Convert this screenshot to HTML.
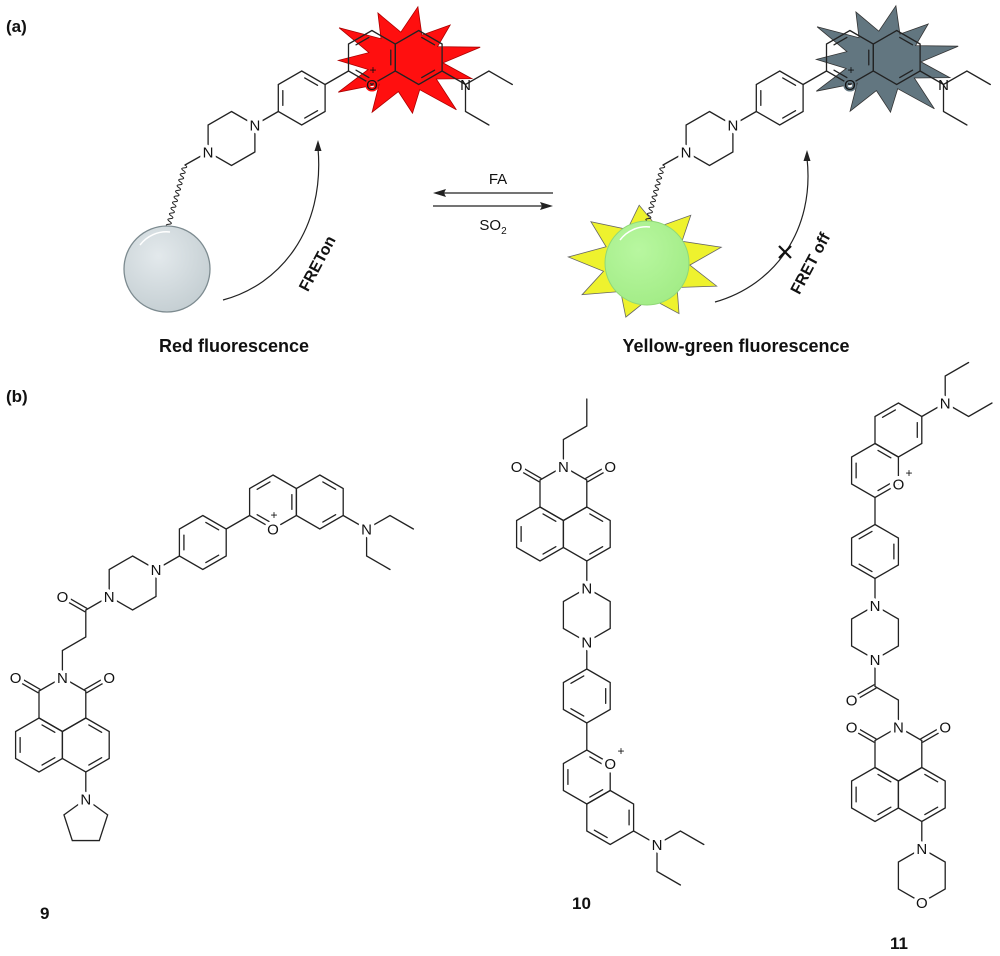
<!DOCTYPE html>
<html><head><meta charset="utf-8"><style>
html,body{margin:0;padding:0;background:#fff;}
svg{display:block;}
text{font-family:"Liberation Sans",Arial,sans-serif;fill:#111;}
.at{font-size:15px;text-anchor:middle;paint-order:stroke;stroke:#fff;stroke-width:7px;stroke-linejoin:round;}
.ar{stroke:#ff0f0f;stroke-width:3px;}
.ag{stroke:#627680;stroke-width:3px;}
.pl{font-size:12px;text-anchor:middle;}
.cap{font-size:18px;font-weight:bold;text-anchor:middle;}
.lab{font-size:17px;font-weight:bold;}
</style></head><body>
<svg width="1000" height="956" viewBox="0 0 1000 956" xmlns="http://www.w3.org/2000/svg" xmlns:xlink="http://www.w3.org/1999/xlink">
<defs>
<radialGradient id="gg" cx="0.4" cy="0.35" r="0.7"><stop offset="0" stop-color="#e3e9ec"/><stop offset="1" stop-color="#c4ced2"/></radialGradient>
<radialGradient id="gr" cx="0.4" cy="0.35" r="0.7"><stop offset="0" stop-color="#b8f7a0"/><stop offset="1" stop-color="#a2ec86"/></radialGradient>
<polygon id="hx" points="0,-27 23.4,-13.5 23.4,13.5 0,27 -23.4,13.5 -23.4,-13.5"/>
<line id="e0" x1="3.02" y1="-20.06" x2="15.86" y2="-12.64"/>
<line id="e1" x1="18.88" y1="-7.41" x2="18.88" y2="7.41"/>
<line id="e2" x1="15.86" y1="12.64" x2="3.02" y2="20.06"/>
<line id="e3" x1="-3.02" y1="20.06" x2="-15.86" y2="12.64"/>
<line id="e4" x1="-18.88" y1="7.41" x2="-18.88" y2="-7.41"/>
<line id="e5" x1="-15.86" y1="-12.64" x2="-3.02" y2="-20.06"/>
<g id="r024"><use xlink:href="#hx"/><use xlink:href="#e0"/><use xlink:href="#e2"/><use xlink:href="#e4"/></g>
<g id="r135"><use xlink:href="#hx"/><use xlink:href="#e1"/><use xlink:href="#e3"/><use xlink:href="#e5"/></g>
<g id="r02"><use xlink:href="#hx"/><use xlink:href="#e0"/><use xlink:href="#e2"/></g>
<g id="r13"><use xlink:href="#hx"/><use xlink:href="#e1"/><use xlink:href="#e3"/></g>
<g id="r15"><use xlink:href="#hx"/><use xlink:href="#e1"/><use xlink:href="#e5"/></g>
<g id="molA">
 <use xlink:href="#r024" transform="translate(301.7,98)"/>
 <use xlink:href="#hx" transform="translate(231.5,138.5)"/>
 <use xlink:href="#r135" transform="translate(371.9,57.5)"/>
 <use xlink:href="#r02" transform="translate(418.7,57.5)"/>
 <path d="M278.3,111.5 L254.9,125 M208.1,152 L185,165 M325.1,84.5 L348.5,71 M442.1,71 L465.5,84.5 L488.9,71 L512.3,84.5 M465.5,84.5 L465.5,111.5 L488.9,125"/>
 <path stroke-width="1" d="M185,165 q3.85,2.57 -0.77,2.82 t-0.77,2.82 t-0.77,2.82 t-0.77,2.82 t-0.77,2.82 t-0.77,2.82 t-0.77,2.82 t-0.77,2.82 t-0.77,2.82 t-0.77,2.82 t-0.77,2.82 t-0.77,2.82 t-0.77,2.82 t-0.77,2.82 t-0.77,2.82 t-0.77,2.82 t-0.77,2.82 t-0.77,2.82 t-0.77,2.82 t-0.77,2.82 t-0.77,2.82 t-0.77,2.82"/>
</g>
</defs>

<!-- stars -->
<polygon points="417.9,6.8 421.9,35.1 450.2,25 437.6,46.6 480.2,47.2 443,62.9 471.8,78.6 436.3,79 456.4,109.8 419.7,89.7 412.5,113.2 398.4,91.6 372.1,112.2 379.2,84.1 338.3,92.2 368.2,69.5 338.4,60.4 368.9,52.6 339.1,27.8 381,38.7 377.9,13 400.8,32.2" fill="#ff0f0f" stroke="#a00" stroke-width="0.8"/>
<polygon transform="translate(478,-1)" points="417.9,6.8 421.9,35.1 450.2,25 437.6,46.6 480.2,47.2 443,62.9 471.8,78.6 436.3,79 456.4,109.8 419.7,89.7 412.5,113.2 398.4,91.6 372.1,112.2 379.2,84.1 338.3,92.2 368.2,69.5 338.4,60.4 368.9,52.6 339.1,27.8 381,38.7 377.9,13 400.8,32.2" fill="#627680" stroke="#333" stroke-width="0.8"/>
<polygon points="639.2,205.2 657.4,227.2 690.8,215.3 682,241.3 721.3,247.2 689.8,265.1 716.7,286.1 677.1,287.5 679,313.6 649.8,297.9 625.8,317.1 620.7,291.5 582.1,294.7 603.5,271.3 568.3,257 606.1,246.8 590.9,221.7 627.4,229.4" fill="#eef22e" stroke="#666" stroke-width="0.8"/>

<g stroke="#222" stroke-width="1.3" fill="none" stroke-linecap="round">
 <use xlink:href="#molA"/>
 <use xlink:href="#molA" transform="translate(478,0)"/>

 <!-- 9 -->
 <use xlink:href="#r135" transform="translate(273,502)"/>
 <use xlink:href="#r02" transform="translate(319.8,502)"/>
 <use xlink:href="#r024" transform="translate(202.8,542.5)"/>
 <use xlink:href="#hx" transform="translate(132.6,583)"/>
 <use xlink:href="#hx" transform="translate(62.4,704.5)"/>
 <use xlink:href="#r024" transform="translate(39,745)"/>
 <use xlink:href="#r02" transform="translate(85.8,745)"/>
 <path d="M343.2,515.5 L366.6,529 L390,515.5 L413.4,529 M366.6,529 L366.6,556 L390,569.5 M249.6,515.5 L226.2,529 M179.4,556 L156,569.5 M109.2,596.5 L85.8,610 L85.8,637 L62.4,650.5 L62.4,677.5 M85.8,772 L85.8,799"/>
 <path d="M86.8,608.3 L63.4,594.8 M84.8,611.7 L61.4,598.2 M40,689.3 L16.6,675.8 M38,692.7 L14.6,679.2 M86.8,692.7 L110.2,679.2 M84.8,689.3 L108.2,675.8"/>
 <polygon points="85.8,799 107.65,814.87 99.3,840.55 72.3,840.55 63.95,814.87"/>

 <!-- 10 -->
 <use xlink:href="#hx" transform="translate(563.4,493.5)"/>
 <use xlink:href="#r024" transform="translate(540,534)"/>
 <use xlink:href="#r02" transform="translate(586.8,534)"/>
 <use xlink:href="#hx" transform="translate(586.8,615)"/>
 <use xlink:href="#r135" transform="translate(586.8,696)"/>
 <use xlink:href="#r024" transform="translate(586.8,777)"/>
 <use xlink:href="#r13" transform="translate(610.2,817.5)"/>
 <path d="M586.8,399 L586.8,426 L563.4,439.5 L563.4,466.5 M586.8,561 L586.8,588 M586.8,642 L586.8,669 M586.8,723 L586.8,750 M633.6,831 L657,844.5 L680.4,831 L703.8,844.5 M657,844.5 L657,871.5 L680.4,885"/>
 <path d="M541,478.3 L517.6,464.8 M539,481.7 L515.6,468.2 M587.8,481.7 L611.2,468.2 M585.8,478.3 L609.2,464.8"/>

 <!-- 11 -->
 <use xlink:href="#r15" transform="translate(898.4,430)"/>
 <use xlink:href="#r024" transform="translate(875,470.5)"/>
 <use xlink:href="#r135" transform="translate(875,551.5)"/>
 <use xlink:href="#hx" transform="translate(875,632.5)"/>
 <use xlink:href="#hx" transform="translate(898.4,754)"/>
 <use xlink:href="#r024" transform="translate(875,794.5)"/>
 <use xlink:href="#r02" transform="translate(921.8,794.5)"/>
 <use xlink:href="#hx" transform="translate(921.8,875.5)"/>
 <path d="M921.8,416.5 L945.2,403 L945.2,376 L968.6,362.5 M945.2,403 L968.6,416.5 L992,403 M875,497.5 L875,524.5 M875,578.5 L875,605.5 M875,659.5 L875,686.5 L898.4,700 L898.4,727 M921.8,821.5 L921.8,848.5"/>
 <path d="M874,684.8 L850.6,698.3 M876,688.2 L852.6,701.7 M876,738.8 L852.6,725.3 M874,742.2 L850.6,728.7 M922.8,742.2 L946.2,728.7 M920.8,738.8 L944.2,725.3"/>
</g>

<!-- balls -->
<circle cx="167" cy="269" r="43" fill="url(#gg)" stroke="#7d8b90" stroke-width="1.3"/>
<path d="M140,245 A33,33 0 0 1 170,232" stroke="#fff" stroke-width="1.5" fill="none"/>
<circle cx="647" cy="263" r="42" fill="url(#gr)" stroke="#8fd876" stroke-width="1"/>
<path d="M620,240 A33,33 0 0 1 650,227" stroke="#fff" stroke-width="1.5" fill="none"/>

<!-- equilibrium arrows -->
<line x1="436" y1="193" x2="553" y2="193" stroke="#222" stroke-width="1.3"/>
<polygon points="433,193 446,189 444,193 446,197" fill="#222"/>
<line x1="433" y1="206" x2="550" y2="206" stroke="#222" stroke-width="1.3"/>
<polygon points="553,206 540,202 542,206 540,210" fill="#222"/>
<text x="498" y="184" style="font-size:15px;text-anchor:middle">FA</text>
<text x="493" y="230" style="font-size:15px;text-anchor:middle">SO<tspan style="font-size:10px" dy="4">2</tspan></text>

<!-- FRET arrows -->
<path d="M223,300 C280,285 325,230 318,148" stroke="#222" stroke-width="1.2" fill="none"/>
<polygon points="318,140 314.5,151 321.5,151" fill="#222"/>
<path d="M715,302 C775,285 815,230 807,158" stroke="#222" stroke-width="1.2" fill="none"/>
<polygon points="807,150 803.5,161 810.5,161" fill="#222"/>
<line x1="779" y1="246" x2="791" y2="258" stroke="#111" stroke-width="2.2"/>
<line x1="791" y1="246" x2="779" y2="258" stroke="#111" stroke-width="2.2"/>
<text transform="translate(322,266) rotate(-62)" style="font-size:16px;font-weight:bold;text-anchor:middle">FRETon</text>
<text transform="translate(815,266) rotate(-62)" style="font-size:16px;font-weight:bold;text-anchor:middle">FRET off</text>

<text class="cap" x="234" y="352">Red fluorescence</text>
<text class="cap" x="736" y="352">Yellow-green fluorescence</text>
<text class="lab" x="6" y="32">(a)</text>
<text class="lab" x="6" y="402">(b)</text>
<text class="lab" x="40" y="919">9</text>
<text class="lab" x="572" y="909">10</text>
<text class="lab" x="890" y="949">11</text>

<!-- atom labels (a) -->
<text class="at" x="254.9" y="130.5">N</text>
<text class="at" x="208.1" y="157.5">N</text>
<text class="at ar" x="371.9" y="90">O</text><text class="pl" x="373" y="74">+</text>
<text class="at" x="465.5" y="90" style="stroke:none">N</text>
<text class="at" x="732.9" y="130.5">N</text>
<text class="at" x="686.1" y="157.5">N</text>
<text class="at ag" x="849.9" y="90">O</text><text class="pl" x="851" y="74">+</text>
<text class="at" x="943.5" y="90" style="stroke:none">N</text>
<!-- 9 -->
<text class="at" x="273" y="534.5">O</text><text class="pl" x="274" y="519">+</text>
<text class="at" x="366.6" y="534.5">N</text>
<text class="at" x="156" y="575">N</text>
<text class="at" x="109.2" y="602">N</text>
<text class="at" x="62.4" y="602">O</text>
<text class="at" x="62.4" y="683">N</text>
<text class="at" x="15.6" y="683">O</text>
<text class="at" x="109.2" y="683">O</text>
<text class="at" x="85.8" y="804.5">N</text>
<!-- 10 -->
<text class="at" x="563.4" y="472">N</text>
<text class="at" x="516.6" y="472">O</text>
<text class="at" x="610.2" y="472">O</text>
<text class="at" x="586.8" y="593.5">N</text>
<text class="at" x="586.8" y="647.5">N</text>
<text class="at" x="610.2" y="769">O</text><text class="pl" x="621" y="755">+</text>
<text class="at" x="657" y="850">N</text>
<!-- 11 -->
<text class="at" x="945.2" y="408.5">N</text>
<text class="at" x="898.4" y="489.5">O</text><text class="pl" x="909" y="477">+</text>
<text class="at" x="875" y="611">N</text>
<text class="at" x="875" y="665">N</text>
<text class="at" x="851.6" y="705.5">O</text>
<text class="at" x="898.4" y="732.5">N</text>
<text class="at" x="851.6" y="732.5">O</text>
<text class="at" x="945.2" y="732.5">O</text>
<text class="at" x="921.8" y="854">N</text>
<text class="at" x="921.8" y="908">O</text>
</svg>
</body></html>
